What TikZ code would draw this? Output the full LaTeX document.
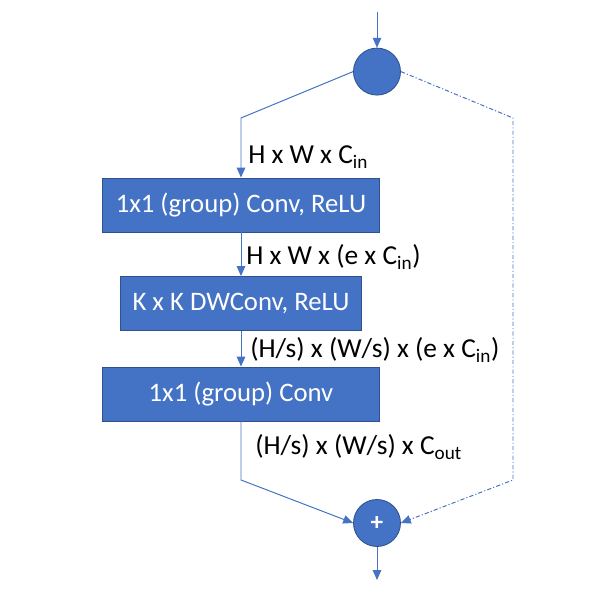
\documentclass[tikz,border=0pt]{standalone}
\usepackage{fontspec}
\setmainfont{Carlito}
\usetikzlibrary{arrows.meta,positioning}
\definecolor{officeblue}{HTML}{4472C4}
\definecolor{officeedge}{HTML}{2F528F}

\begin{document}
\begin{tikzpicture}[font=\fontsize{19}{23}\selectfont,
   line/.style={draw=officeblue,line width=0.7pt},
   arr/.style={line,-{Triangle[length=7pt,width=6pt]}},
   skip/.style={arr,dash pattern=on 3pt off 1.5pt on 0.8pt off 1.5pt},
   layer/.style={rectangle,fill=officeblue,draw=officeedge,line width=0.6pt,text=white,minimum height=1.35cm},
   op/.style={circle,fill=officeblue,draw=officeedge,line width=0.6pt,minimum size=1.175cm,inner sep=0pt,text=white},
   dim/.style={anchor=west,inner sep=0pt,font=\fontsize{19.5}{23}\selectfont}]
   \useasboundingbox (0,0) rectangle (14.85,15);
   \coordinate (in)  at (9.425,14.7);
   \node[op] (split) at (9.425,13.21) {};
   \coordinate (tl)  at (6.025,12.05);
   \coordinate (tr)  at (12.825,12.05);
   \node[layer,minimum width=6.925cm] (pw1) at (6.025,9.875) {1x1 (group) Conv, ReLU};
   \node[layer,minimum width=6.025cm] (dw)  at (6.025,7.4125) {K x K DWConv, ReLU};
   \node[layer,minimum width=6.925cm] (pw2) at (6.025,5.15) {1x1 (group) Conv};
   \coordinate (bl)  at (6.025,3.0);
   \coordinate (br)  at (12.825,3.0);
   \node[op,font=\fontsize{18}{20}\selectfont\bfseries] (add) at (9.425,1.925) {+};
   \coordinate (out) at (9.425,0.5);
   \node[dim] (d0) at (6.2,11.075) {H x W x C\textsubscript{in}};
   \node[dim] (d1) at (6.15,8.575) {H x W x (e x C\textsubscript{in})};
   \node[dim] (d2) at (6.25,6.25) {(H/s) x (W/s) x (e x C\textsubscript{in})};
   \node[dim] (d3) at (6.375,3.825) {(H/s) x (W/s) x C\textsubscript{out}};
   \draw[arr] (in) -- (split);
   \draw[arr] (split.west) -- (tl) -- (pw1);
   \draw[arr] (pw1) -- (dw);
   \draw[arr] (dw) -- (pw2);
   \draw[arr] (pw2) -- (bl) -- (add.west);
   \draw[skip] (split.east) -- (tr) -- (br) -- (add.east);
   \draw[arr] (add) -- (out);
\end{tikzpicture}
\end{document}
